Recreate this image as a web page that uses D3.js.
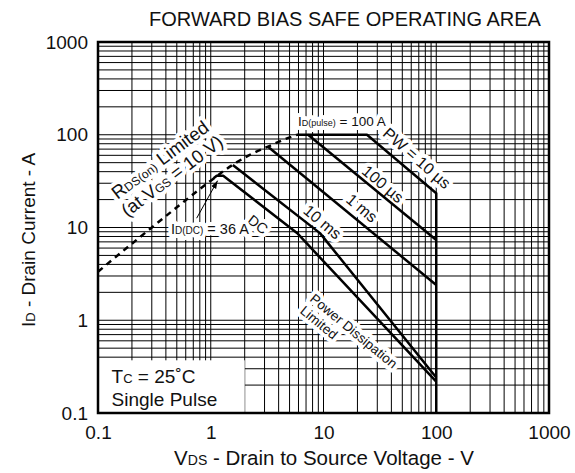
<!DOCTYPE html>
<html><head><meta charset="utf-8">
<script src="https://cdn.jsdelivr.net/npm/d3@7"></script>
<style>
body{margin:0;background:#fff}
text{font-family:"Liberation Sans",Arial,Helvetica,sans-serif;fill:#111}
.halo{fill:#fff;stroke:#fff;stroke-width:8px;stroke-linejoin:round}
</style>
</head><body>
<svg id="c" width="575" height="473"></svg>
<script>
// ---- data (V, A) ----
const xTicks=[0.1,1,10,100,1000];
const yTicks=[0.1,1,10,100,1000];
const rdsLimit=[[0.1,3.34],[0.5,16.5],[1,32],[1.57,47.5],[2.3,62],[3.22,74.5],[4.4,88],[5.8,100]];
const pw10us=[[5.8,100],[24.3,100],[100,23.4],[100,0.1]];
const pw100us=[[7.3,100],[100,7.33]];
const pw1ms=[[3.22,74.3],[100,2.4]];
const pw10ms=[[1.57,47.2],[9.3,8.7],[100,0.2415]];
const dcLine=[[1.06,33.9],[1.13,36.1],[1.29,36.1],[5.82,8.73],[100,0.2175]];
const arrowDC=[[0.75,12.6],[1.15,32]];

const svg=d3.select("#c");
const x=d3.scaleLog().domain([0.1,1000]).range([98,549]);
const y=d3.scaleLog().domain([0.1,1000]).range([413,42]);

// grid
const gridVals=[];
[0.1,1,10,100].forEach(d=>{for(let k=1;k<10;k++)gridVals.push(d*k);});
gridVals.push(1000);
const g=svg.append("g");
g.selectAll(".vg").data(gridVals).join("line")
 .attr("x1",d=>x(d)).attr("x2",d=>x(d)).attr("y1",y(0.1)).attr("y2",y(1000))
 .attr("stroke","#000").attr("stroke-width",1);
g.selectAll(".hg").data(gridVals).join("line")
 .attr("y1",d=>y(d)).attr("y2",d=>y(d)).attr("x1",x(0.1)).attr("x2",x(1000))
 .attr("stroke","#000").attr("stroke-width",1);

// Tc box
svg.append("rect").attr("x",x(0.1)).attr("y",y(0.37)).attr("width",x(2)-x(0.1)).attr("height",y(0.1)-y(0.37)).attr("fill","#fff");

function rich(sel,parts){parts.forEach(p=>{const t=sel.append("tspan").text(p[0]);if(p[1])t.style("font-size",p[1]);});}
function htext(parent,attrs,parts,size,halo){
  const mk=cls=>{const t=parent.append("text");if(cls)t.attr("class",cls);
    Object.entries(attrs).forEach(([k,v])=>t.attr(k,v));t.style("font-size",size+"px");rich(t,parts);return t;};
  if(halo)mk("halo");
  return mk(null);
}
const tcG=svg.append("g");
htext(tcG,{x:x(0.132),y:y(0.21)},[["T"],["C","13px"],[" = 25˚C"]],19,false);
htext(tcG,{x:x(0.132),y:y(0.119)},[["Single Pulse"]],19,false);

function rlabel(v,i,ang,lines,size,anchor,lh){
  const gg=svg.append("g").attr("transform",`translate(${x(v)},${y(i)}) rotate(${ang})`);
  [true,false].forEach(h=>{
    lines.forEach((ln,k)=>{
      const off=anchor==="start"?k*lh:(k-(lines.length-1)/2)*(lh||0);
      const at={"text-anchor":anchor||"middle",y:off};
      if(anchor!=="start")at.dy="0.35em";
      htext(gg,at,ln,size,false).attr("class",h?"halo":null);
    });
  });
}
rlabel(67.5,56,41,[[["PW = 10 µs"]]],16);
rlabel(33.7,29.4,40,[[["100 µs"]]],16);
rlabel(21.9,16.2,40,[[["1 ms"]]],16);
rlabel(9.8,11.5,40,[[["10 ms"]]],16);
rlabel(2.62,10.8,38,[[["DC"]]],14.5);
rlabel(0.4,44,-37,[[["R"],["DS(on)","12px"],[" Limited"]],[["(at V"],["GS","12px"],[" = 10 V)"]]],18.5,"middle",20);
rlabel(7.45,1.64,39.5,[[["Power Dissipation"]],[["Limited"]]],13.5,"start",15.5);

// ID(pulse), ID(DC)
htext(svg,{x:x(5.94),y:y(125)},[["I"],["D(pulse)","9px"],[" = 100 A"]],13.5,true);
htext(svg,{x:x(0.444),y:y(8.5)},[["I"],["D(DC)","10px"],[" = 36 A"]],14.5,true);

// curves
const line=d3.line().x(d=>x(d[0])).y(d=>y(d[1]));
const curves=[pw10us,pw100us,pw1ms,pw10ms,dcLine];
svg.selectAll(".cv").data(curves).join("path").attr("d",line)
 .attr("fill","none").attr("stroke","#000").attr("stroke-width",2.5).attr("stroke-linejoin","round");
svg.append("path").datum(rdsLimit).attr("d",line.curve(d3.curveMonotoneX))
 .attr("fill","none").attr("stroke","#000").attr("stroke-width",2.5).attr("stroke-dasharray","6,5");

// arrow
svg.append("defs").append("marker").attr("id","ah").attr("viewBox","0 0 10 10").attr("refX",10).attr("refY",5)
 .attr("markerWidth",8).attr("markerHeight",8).attr("orient","auto").attr("markerUnits","userSpaceOnUse")
 .append("path").attr("d","M0,1.5L10,5L0,8.5Z").attr("fill","#000");
svg.append("line").attr("x1",x(arrowDC[0][0])).attr("y1",y(arrowDC[0][1])).attr("x2",x(arrowDC[1][0])).attr("y2",y(arrowDC[1][1]))
 .attr("stroke","#000").attr("stroke-width",1).attr("marker-end","url(#ah)");

// border
svg.append("rect").attr("x",x(0.1)).attr("y",y(1000)).attr("width",x(1000)-x(0.1)).attr("height",y(0.1)-y(1000))
 .attr("fill","none").attr("stroke","#000").attr("stroke-width",2.5);

// axes
const fmt=d=>String(d);
const ax=svg.append("g").attr("transform",`translate(0,${y(0.1)})`).call(d3.axisBottom(x).tickValues(xTicks).tickFormat(fmt).tickSize(0).tickPadding(13));
const ay=svg.append("g").attr("transform",`translate(${x(0.1)},0)`).call(d3.axisLeft(y).tickValues(yTicks).tickFormat(fmt).tickSize(0).tickPadding(10));
[ax,ay].forEach(a=>{a.select(".domain").remove();a.selectAll("text").style("font-size","19px").style("font-family",'"Liberation Sans",Arial,sans-serif').attr("fill","#111");});

// titles
svg.append("text").attr("x",345).attr("y",26).attr("text-anchor","middle").style("font-size","20px").text("FORWARD BIAS SAFE OPERATING AREA");
const xl=svg.append("text").attr("x",324).attr("y",465).attr("text-anchor","middle").style("font-size","20.5px");
rich(xl,[["V"],["DS","14px"],[" - Drain to Source Voltage - V"]]);
const yl=svg.append("text").attr("transform","translate(35,240) rotate(-90)").attr("text-anchor","middle").style("font-size","19px");
rich(yl,[["I"],["D","13px"],[" - Drain Current - A"]]);
</script>
</body></html>
